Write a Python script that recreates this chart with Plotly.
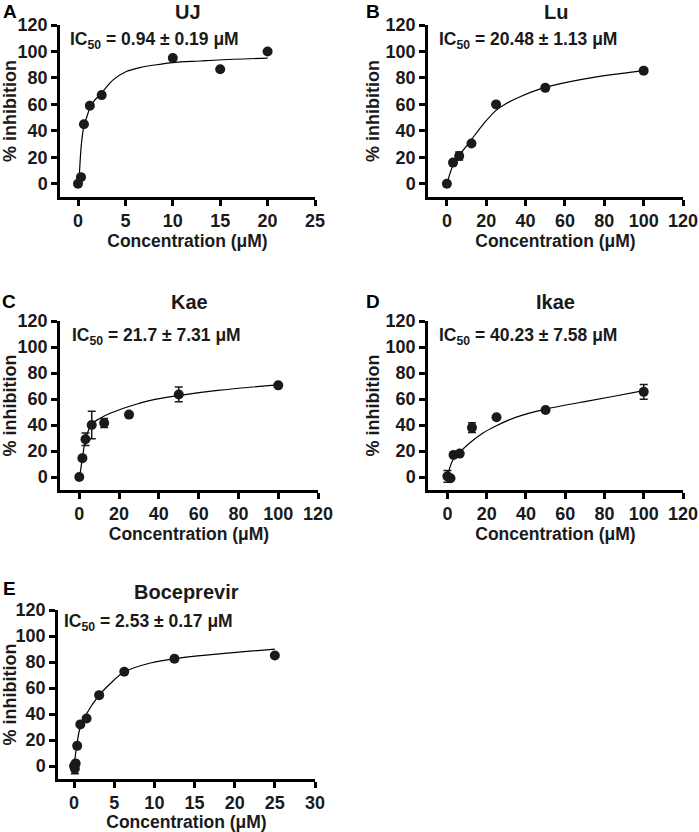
import plotly.graph_objects as go

# --- data ---
# A: UJ
uj_conc = [0, 0.3125, 0.625, 1.25, 2.5, 10, 15, 20]
uj_inh = [0, 5, 45, 59, 67, 95, 86.5, 100]
uj_err = [0, 0, 0, 0, 0, 0, 0, 0]
uj_fit_x = [0.1, 0.25, 0.4, 0.65, 1.0, 1.3, 1.8, 2.3, 3.0, 3.7, 5.1, 6.5, 8.6, 10, 12.9, 16.4, 20]
uj_fit_y = [0.5, 20, 33, 44.5, 52, 58.5, 63.5, 67.2, 73, 78.5, 84.8, 87.8, 90.3, 91.6, 92.8, 94.1, 94.9]

# B: Lu
lu_conc = [0, 3.125, 6.25, 12.5, 25, 50, 100]
lu_inh = [0, 16, 21, 30.5, 60, 72.5, 85.5]
lu_err = [0, 1.5, 3, 0, 0, 0, 0]
lu_fit_x = [0.5, 3.125, 6.25, 9.4, 12.5, 18.75, 25, 30, 37.5, 50, 70, 100]
lu_fit_y = [2.5, 14, 21.5, 27.5, 33.5, 45.5, 55.5, 60.5, 66, 72.8, 79.3, 85.5]

# C: Kae
kae_conc = [0, 1.5625, 3.125, 6.25, 12.5, 25, 50, 100]
kae_inh = [0, 14.5, 29, 40, 41.5, 48, 63.5, 70.5]
kae_err = [0, 0, 4.8, 10.5, 3.5, 0, 5.7, 0]
kae_fit_x = [0.3, 1.5, 3.4, 6.25, 10.5, 15.5, 25.7, 35.8, 50.5, 69.6, 100]
kae_fit_y = [1.2, 14, 30.5, 40.7, 45.2, 49, 54.6, 59, 62.8, 66.6, 70.9]

# D: Ikae
ikae_conc = [0, 1.5625, 3.125, 6.25, 12.5, 25, 50, 100]
ikae_inh = [0.5, -1, 17, 18, 38, 46, 51.5, 65.5]
ikae_err = [4.5, 0, 0, 0, 3.8, 0, 0, 5.6]
ikae_fit_x = [0.3, 2.85, 6.25, 11.3, 18.1, 24.9, 35.1, 50, 67.3, 84.2, 100]
ikae_fit_y = [2.5, 13.3, 18.9, 26.1, 33.8, 39.4, 46.1, 52.2, 57.3, 61.9, 66.5]

# E: Boceprevir
boc_conc = [0, 0.098, 0.195, 0.39, 0.78, 1.5625, 3.125, 6.25, 12.5, 25]
boc_inh = [0, -2, 2, 15.5, 32, 36.5, 54.5, 72.5, 82.5, 85]
boc_err = [0, 4, 0, 0, 0, 0, 0, 0, 0, 0]
boc_fit_x = [0, 0.33, 0.75, 1.58, 3.08, 4.5, 6.24, 9.5, 12.5, 17.8, 25]
boc_fit_y = [0.5, 15.3, 29.4, 40.4, 54.1, 63.3, 72.3, 79.2, 82.5, 86, 89.9]

titles = ["UJ", "Lu", "Kae", "Ikae", "Boceprevir"]
letters = ["A", "B", "C", "D", "E"]
ic50_labels = ["0.94 ± 0.19", "20.48 ± 1.13", "21.7 ± 7.31", "40.23 ± 7.58", "2.53 ± 0.17"]
x_maxes = [25, 120, 120, 120, 30]
x_dticks = [5, 20, 20, 20, 5]
y_ticks = [0, 20, 40, 60, 80, 100, 120]

series = [
    (uj_conc, uj_inh, uj_err, uj_fit_x, uj_fit_y),
    (lu_conc, lu_inh, lu_err, lu_fit_x, lu_fit_y),
    (kae_conc, kae_inh, kae_err, kae_fit_x, kae_fit_y),
    (ikae_conc, ikae_inh, ikae_err, ikae_fit_x, ikae_fit_y),
    (boc_conc, boc_inh, boc_err, boc_fit_x, boc_fit_y),
]

# --- layout in pixels (figure is 699 x 832) ---
W, H = 699, 832
boxes = [  # left, right, top, bottom of each plot area
    (60, 315, 25, 197),
    (428, 683, 25, 197),
    (60, 318, 321, 490),
    (428, 683, 321, 490),
    (58, 315, 610, 779),
]
x_mins = [-1.9, -9.6, -9.7, -9.9, -2.0]
ic50_pos = [(68, 41), (437, 41), (70, 337), (437, 337), (62, 622)]
title_y = [11.5, 11.5, 302, 302, 592]
letter_pos = [(10, 11), (373, 11), (9, 302), (373, 302), (9, 588)]

def px(x):
    return x / W

def py(y):
    return 1 - y / H

FONT = "Arial, Liberation Sans, sans-serif"
INK = "#1a1a1a"

fig = go.Figure()
annotations = []

for i in range(5):
    conc, inh, err, fx, fy = series[i]
    n = "" if i == 0 else str(i + 1)
    xa, ya = "x" + n, "y" + n
    left, right, top, bottom = boxes[i]

    # fitted curve, then the measured points with their error bars
    fig.add_trace(go.Scatter(
        x=fx, y=fy, mode="lines", line=dict(color="black", width=1.2, shape="spline"),
        xaxis=xa, yaxis=ya, showlegend=False, hoverinfo="skip"))
    fig.add_trace(go.Scatter(
        x=conc, y=inh, mode="markers",
        marker=dict(color=INK, size=10),
        error_y=dict(type="data", array=err, visible=True, color=INK, thickness=1.5, width=4),
        xaxis=xa, yaxis=ya, showlegend=False, name=titles[i]))

    axis_common = dict(
        showline=True, linecolor="black", linewidth=2.5,
        ticks="outside", ticklen=6, tickwidth=2.5, tickcolor="black",
        showgrid=False, zeroline=False, automargin=False,
        tickfont=dict(family=FONT, size=18, color=INK, weight="bold"),
    )
    fig.layout["xaxis" + n] = dict(
        axis_common, domain=[px(left), px(right)], anchor=ya,
        range=[x_mins[i], x_maxes[i]], tick0=0, dtick=x_dticks[i],
        title=dict(text="Concentration (μM)", standoff=2,
                   font=dict(family=FONT, size=17.5, color=INK, weight="bold")),
    )
    fig.layout["yaxis" + n] = dict(
        axis_common, domain=[py(bottom), py(top)], anchor=xa,
        range=[-10, 120], tickvals=y_ticks,
        title=dict(text="% inhibition", standoff=2,
                   font=dict(family=FONT, size=18, color=INK, weight="bold")),
    )

    annotations.append(dict(
        text="<b>" + titles[i] + "</b>", x=px((left + right) / 2), y=py(title_y[i]),
        xref="paper", yref="paper", showarrow=False, xanchor="center", yanchor="middle",
        font=dict(family=FONT, size=20, color=INK)))
    annotations.append(dict(
        text="<b>" + letters[i] + "</b>", x=px(letter_pos[i][0]), y=py(letter_pos[i][1]),
        xref="paper", yref="paper", showarrow=False, xanchor="center", yanchor="middle",
        font=dict(family=FONT, size=19, color="black")))
    annotations.append(dict(
        text="<b>IC<sub>50</sub> = " + ic50_labels[i] + " μM</b>",
        x=px(ic50_pos[i][0]), y=py(ic50_pos[i][1]),
        xref="paper", yref="paper", showarrow=False, xanchor="left", yanchor="middle",
        font=dict(family=FONT, size=17.5, color=INK)))

fig.update_layout(
    width=W, height=H,
    margin=dict(l=0, r=0, t=0, b=0),
    plot_bgcolor="white", paper_bgcolor="white",
    annotations=annotations,
    font=dict(family=FONT, color=INK),
)

fig.write_html("out.html", config={"displayModeBar": False},
               post_script="document.body.style.margin='0';")
